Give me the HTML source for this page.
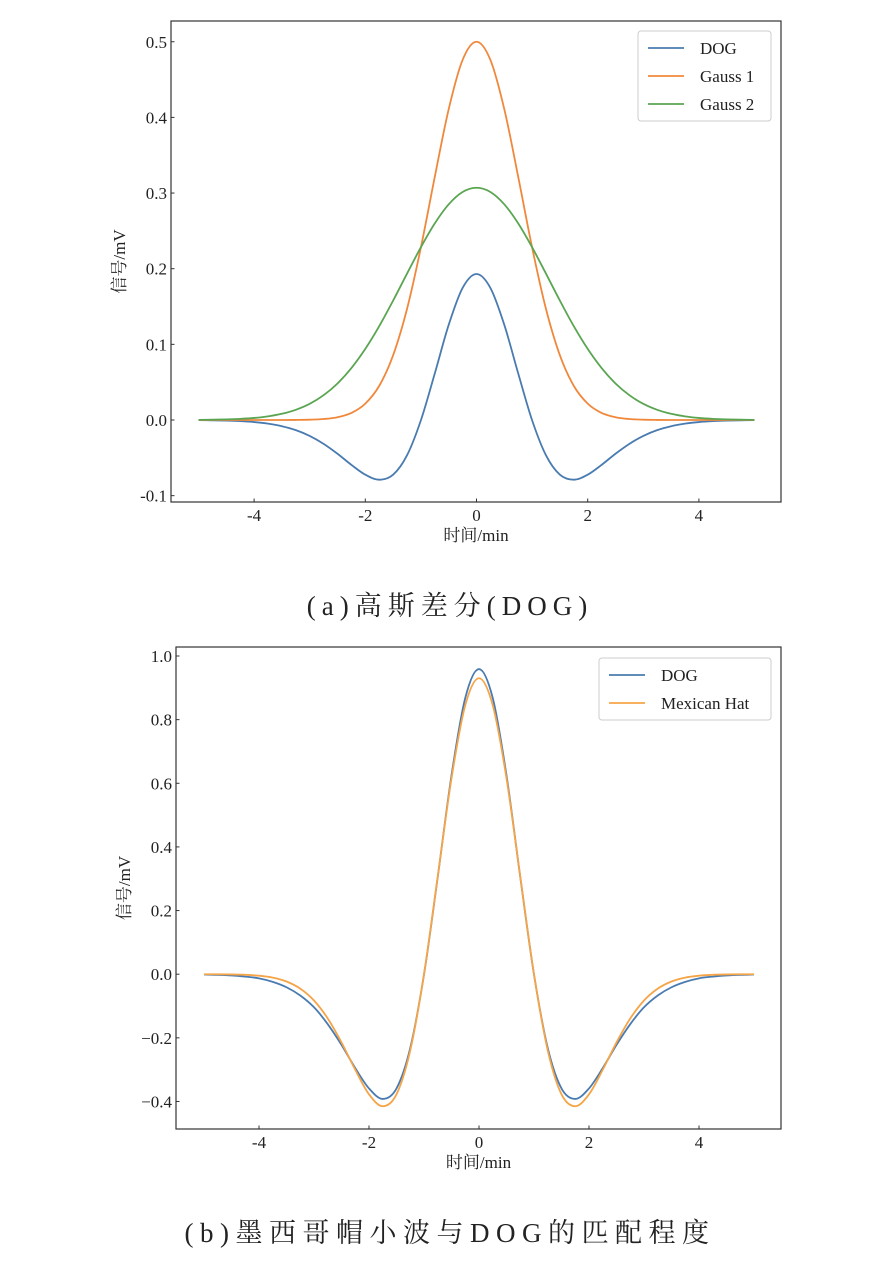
<!DOCTYPE html>
<html><head><meta charset="utf-8"><style>
html,body{margin:0;padding:0;background:#fff;}
svg{display:block;font-family:"Liberation Serif","Noto Serif CJK SC",serif;}
</style></head><body>
<svg id="fig" width="896" height="1265" viewBox="0 0 896 1265" xmlns="http://www.w3.org/2000/svg">
<text x="450" y="615" text-anchor="middle" font-size="27" letter-spacing="6" fill="#222">(a)高斯差分(DOG)</text>
<text x="450" y="1242" text-anchor="middle" font-size="27" letter-spacing="6.5" fill="#222">(b)墨西哥帽小波与DOG的匹配程度</text>
</svg>
<script>
const xs = [-5,-4.75,-4.5,-4.25,-4,-3.75,-3.5,-3.25,-3,-2.75,-2.5,-2.25,-2,-1.75,-1.5,-1.25,-1,-0.75,-0.5,-0.25,0,0.25,0.5,0.75,1,1.25,1.5,1.75,2,2.25,2.5,2.75,3,3.25,3.5,3.75,4,4.25,4.5,4.75,5];
const dogA = [-0.0002,-0.0004,-0.0008,-0.0015,-0.0027,-0.0048,-0.0082,-0.0134,-0.021,-0.0315,-0.0446,-0.0593,-0.0723,-0.0789,-0.0723,-0.0467,-0.0003,0.0616,0.1258,0.1746,0.193,0.1746,0.1258,0.0616,-0.0003,-0.0467,-0.0723,-0.0789,-0.0723,-0.0593,-0.0446,-0.0315,-0.021,-0.0134,-0.0082,-0.0048,-0.0027,-0.0015,-0.0008,-0.0004,-0.0002];
const gauss1 = [0,0,0,0,0,0,0,0.0001,0.0004,0.0013,0.0037,0.0094,0.0217,0.0451,0.0855,0.1467,0.2281,0.3215,0.4109,0.476,0.5,0.476,0.4109,0.3215,0.2281,0.1467,0.0855,0.0451,0.0217,0.0094,0.0037,0.0013,0.0004,0.0001,0,0,0,0,0,0,0];
const gauss2 = [0.0002,0.0004,0.0008,0.0015,0.0027,0.0048,0.0082,0.0135,0.0214,0.0328,0.0483,0.0687,0.094,0.124,0.1578,0.1934,0.2284,0.2599,0.2851,0.3014,0.307,0.3014,0.2851,0.2599,0.2284,0.1934,0.1578,0.124,0.094,0.0687,0.0483,0.0328,0.0214,0.0135,0.0082,0.0048,0.0027,0.0015,0.0008,0.0004,0.0002];
const dogB = [-0.001,-0.002,-0.004,-0.0075,-0.013,-0.024,-0.041,-0.067,-0.104,-0.157,-0.222,-0.295,-0.359,-0.392,-0.359,-0.232,-0.001,0.306,0.625,0.868,0.959,0.868,0.625,0.306,-0.001,-0.232,-0.359,-0.392,-0.359,-0.295,-0.222,-0.157,-0.104,-0.067,-0.041,-0.024,-0.013,-0.0075,-0.004,-0.002,-0.001];
const mexHat = [-0.0001,-0.0002,-0.0007,-0.0019,-0.0047,-0.0107,-0.0229,-0.0453,-0.0826,-0.1391,-0.2143,-0.3003,-0.3775,-0.4149,-0.3775,-0.2395,0,0.3071,0.6155,0.845,0.93,0.845,0.6155,0.3071,0,-0.2395,-0.3775,-0.4149,-0.3775,-0.3003,-0.2143,-0.1391,-0.0826,-0.0453,-0.0229,-0.0107,-0.0047,-0.0019,-0.0007,-0.0002,-0.0001];
const xTicks = [-4,-2,0,2,4];
const yTicksA = [-0.1,0,0.1,0.2,0.3,0.4,0.5];
const yLabelsA = ["-0.1","0.0","0.1","0.2","0.3","0.4","0.5"];
const yTicksB = [-0.4,-0.2,0,0.2,0.4,0.6,0.8,1.0];
const yLabelsB = ["\u22120.4","\u22120.2","0.0","0.2","0.4","0.6","0.8","1.0"];
const seriesNamesA = ["DOG","Gauss 1","Gauss 2"];
const seriesNamesB = ["DOG","Mexican Hat"];

const NS="http://www.w3.org/2000/svg";
const svg=document.getElementById('fig');
function mk(tag,attrs,parent){const e=document.createElementNS(NS,tag);for(const k in attrs)e.setAttribute(k,attrs[k]);(parent||svg).appendChild(e);return e;}

function chart(cfg){
  const g=mk('g',{});
  
  
  const sx=v=>cfg.x0+v*cfg.kx;
  const sy=v=>cfg.y0-v*cfg.ky;
  const box=mk('rect',{x:cfg.L,y:cfg.T,width:cfg.R-cfg.L,height:cfg.B-cfg.T,fill:'none',stroke:'#333','stroke-width':1.2},g);
  
  
  cfg.yt.forEach((v,i)=>{
    const y=sy(v);
    mk('line',{x1:cfg.L,x2:cfg.L+3.5,y1:y,y2:y,stroke:'#333','stroke-width':1},g);
    const t=mk('text',{x:cfg.L-4,y:y+6,'text-anchor':'end','font-size':17,fill:'#222'},g);
    t.textContent=cfg.yl[i];
    
    
  });
  xTicks.forEach(v=>{
    const x=sx(v);
    mk('line',{x1:x,x2:x,y1:cfg.B,y2:cfg.B-3.5,stroke:'#333','stroke-width':1},g);
    const t=mk('text',{x:x,y:cfg.B+19,'text-anchor':'middle','font-size':17,fill:'#222'},g);
    t.textContent=String(v);
    
    
  });
  const xl=mk('text',{x:(cfg.L+cfg.R)/2,y:cfg.B+39,'text-anchor':'middle','font-size':17,fill:'#222'},g);
  xl.textContent='时间/min';
  
  
  const yc=(cfg.T+cfg.B)/2;
  const yl=mk('text',{x:0,y:0,'text-anchor':'middle','font-size':17,fill:'#222',transform:`translate(${cfg.L-46},${yc}) rotate(-90)`},g);
  yl.textContent='信号/mV';
  
  
  cfg.series.forEach((s,si)=>{
    let d='';
    xs.forEach((xv,i)=>{
      const px=sx(xv),py=sy(s.vals[i]);
      if(i===0){d+=`M${px},${py}`;return;}
      const p0=i>1?[sx(xs[i-2]),sy(s.vals[i-2])]:[sx(xs[i-1]),sy(s.vals[i-1])];
      const p1=[sx(xs[i-1]),sy(s.vals[i-1])];
      const p3=i<xs.length-1?[sx(xs[i+1]),sy(s.vals[i+1])]:[px,py];
      const c1=[p1[0]+(px-p0[0])/6,p1[1]+(py-p0[1])/6];
      const c2=[px-(p3[0]-p1[0])/6,py-(p3[1]-p1[1])/6];
      d+=`C${c1[0]},${c1[1]} ${c2[0]},${c2[1]} ${px},${py}`;
    });
    const p=mk('path',{d:d,fill:'none',stroke:s.color,'stroke-width':1.8},g);
    
    
  });
  const lg=mk('g',{},g);
  
  
  const lb=cfg.leg;
  mk('rect',{x:lb.x,y:lb.y,width:lb.w,height:cfg.series.length*28+6,rx:3,fill:'#fff',stroke:'#ccc','stroke-width':1},lg);
  cfg.series.forEach((s,i)=>{
    const y=lb.y+17+i*28;
    mk('line',{x1:lb.x+10,x2:lb.x+46,y1:y,y2:y,stroke:s.color,'stroke-width':1.8},lg);
    const t=mk('text',{x:lb.x+62,y:y+6,'font-size':17,fill:'#222'},lg);
    t.textContent=s.label;
    
    
  });
}
chart({name:'chart-dog-gauss',L:171,R:781,T:21,B:502,x0:476.5,kx:55.6,y0:420,ky:756.5,yt:yTicksA,yl:yLabelsA,
  leg:{x:638,y:31,w:133},
  series:[{label:seriesNamesA[0],vals:dogA,color:'#4a7bb0'},{label:seriesNamesA[1],vals:gauss1,color:'#f0883c'},{label:seriesNamesA[2],vals:gauss2,color:'#5aa552'}]});
chart({name:'chart-dog-mexican-hat',L:176,R:781,T:647,B:1129,x0:479,kx:55,y0:974.2,ky:318.2,yt:yTicksB,yl:yLabelsB,
  leg:{x:599,y:658,w:172},
  series:[{label:seriesNamesB[0],vals:dogB,color:'#4a7bb0'},{label:seriesNamesB[1],vals:mexHat,color:'#f5a447'}]});
</script>
</body></html>
